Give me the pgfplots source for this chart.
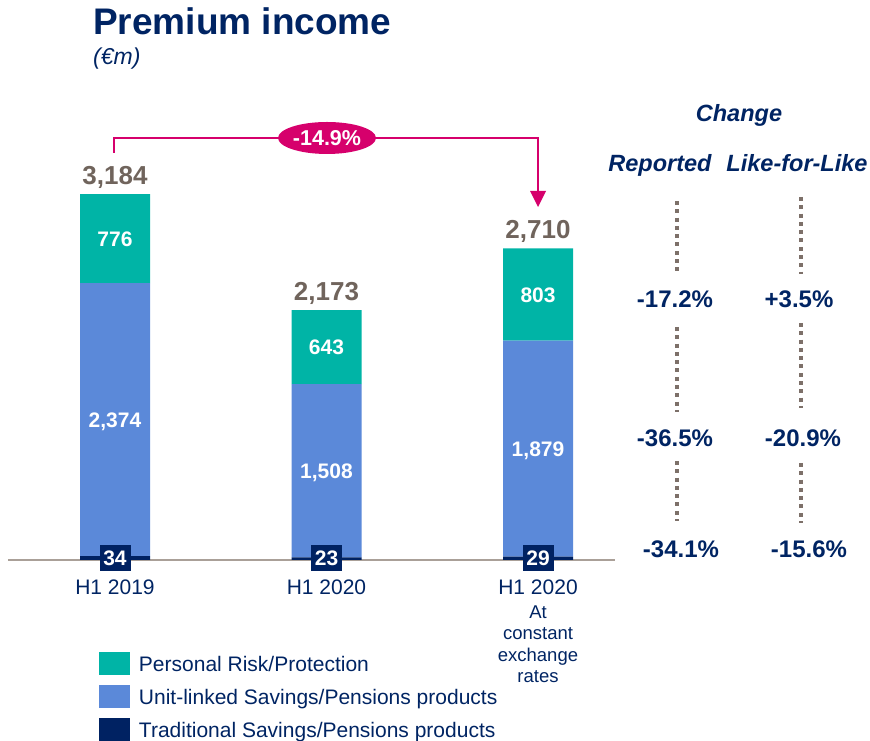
\documentclass[border=0pt]{standalone}
\usepackage{fontspec}
\setmainfont{Liberation Sans}
\usepackage{pgfplots}
\pgfplotsset{compat=1.18}
\usepackage{pgfplotstable}
\definecolor{tealbar}{RGB}{0,180,166}
\definecolor{bluebar}{RGB}{91,137,217}
\definecolor{navybar}{RGB}{0,34,98}
\definecolor{navy}{RGB}{0,36,99}
\definecolor{totgray}{RGB}{112,100,92}
\definecolor{magenta2}{RGB}{214,0,108}
\definecolor{dotgray}{RGB}{125,112,105}
\definecolor{basegray}{RGB}{170,160,152}

\pgfplotstableread{
x trad unit prot
0 34 2374 776
1 23 1508 643
2 29 1879 803
}\premium

\pgfplotstableread{
x y label
0 1221 2,374
0 2796 776
1 777 1,508
1 1852.5 643
2 968.5 1,879
2 2309.5 803
}\seglabels

\pgfplotstableread{
x y label
0 3184 3,184
1 2173 2,173
2 2710 2,710
}\totals

\pgfplotstableread{
x y label
0 17 34
1 17 23
2 17 29
}\tradlabels

\begin{document}
\begin{tikzpicture}
\useasboundingbox (0,0) rectangle (870pt,741pt);
% title
\node[anchor=base west, inner sep=0pt, text=navy, font=\fontsize{37}{41}\selectfont\bfseries] at (93pt,706pt) {Premium income};
\node[anchor=base west, inner sep=0pt, text=navy, font=\fontsize{23}{27}\selectfont\itshape] at (93pt,676pt) {(€m)};

\begin{axis}[at={(8pt,181pt)}, anchor=south west, scale only axis,
  width=607pt, height=400pt,
  xmin=-0.5059, xmax=2.364, ymin=0, ymax=3480,
  ybar stacked, bar width=70pt,
  axis x line=bottom, axis y line=none,
  x axis line style={-, draw=basegray, line width=2pt},
  xtick={0,1,2}, xticklabels={H1 2019,H1 2020,H1 2020},
  major tick length=0pt,
  xticklabel style={anchor=base, yshift=-35pt, font=\fontsize{21}{25}\selectfont, text=navy},
  ytick=\empty,
  reverse legend,
  legend style={at={(0.1499,-0.23)}, anchor=north west, draw=none, fill=none,
    inner sep=0pt, outer sep=0pt, row sep=9.5pt, column sep=9pt,
    font=\fontsize{21}{25}\selectfont, text=navy,
    nodes={inner sep=0pt, text height=19pt, text depth=4pt}},
  legend cell align=left,
]
\addplot[fill=navybar, draw=none, legend image code/.code={\fill[navybar] (0pt,-11pt) rectangle (31pt,12pt);}] table[x=x,y=trad]{\premium};
\addplot[fill=bluebar, draw=none, legend image code/.code={\fill[bluebar] (0pt,-11pt) rectangle (31pt,12pt);}] table[x=x,y=unit]{\premium};
\addplot[fill=tealbar, draw=none, legend image code/.code={\fill[tealbar] (0pt,-11pt) rectangle (31pt,12pt);}] table[x=x,y=prot]{\premium};
\legend{Traditional Savings/Pensions products, Unit-linked Savings/Pensions products, Personal Risk/Protection}
\end{axis}

\begin{axis}[at={(8pt,181pt)}, anchor=south west, scale only axis,
  width=607pt, height=400pt,
  xmin=-0.5059, xmax=2.364, ymin=0, ymax=3480,
  hide axis, clip=false]
\addplot[draw=none, mark=none, nodes near coords, point meta=explicit symbolic,
  every node near coord/.append style={anchor=base, yshift=-7.5pt, inner sep=0pt,
    font=\fontsize{21}{25}\selectfont\bfseries, text=white}]
  table[x=x, y=y, meta=label]{\seglabels};
\addplot[draw=none, mark=none, nodes near coords, point meta=explicit symbolic,
  every node near coord/.append style={anchor=base, yshift=10pt, inner sep=0pt,
    font=\fontsize{26}{30}\selectfont\bfseries, text=totgray}]
  table[x=x, y=y, meta=label]{\totals};
\addplot[draw=none, mark=none, nodes near coords, point meta=explicit symbolic,
  every node near coord/.append style={anchor=center, inner sep=0pt, fill=navybar,
    minimum width=31pt, minimum height=26pt,
    font=\fontsize{21}{25}\selectfont\bfseries, text=white}]
  table[x=x, y=y, meta=label]{\tradlabels};
\end{axis}

% sub-label of third category
\begin{scope}[every node/.style={anchor=base, inner sep=0pt, text=navy, font=\fontsize{18.5}{22}\selectfont}]
\node at (538pt,122.5pt) {At};
\node at (538pt,101pt) {constant};
\node at (538pt,79.5pt) {exchange};
\node at (538pt,58pt) {rates};
\end{scope}

% change arrow
\draw[magenta2, line width=2.5pt] (114pt,588pt) -- (114pt,603pt) -- (538pt,603pt) -- (538pt,550pt);
\fill[magenta2] (530pt,550pt) -- (546pt,550pt) -- (538pt,534pt) -- cycle;
\fill[magenta2] (327pt,603pt) ellipse [x radius=49pt, y radius=16pt];
\node[text=white, inner sep=0pt, font=\fontsize{21.5}{25}\selectfont\bfseries] at (327pt,603pt) {-14.9\%};

% right-hand change table
\begin{scope}[every node/.style={anchor=base, inner sep=0pt, text=navy}]
\node[font=\fontsize{23.5}{27}\selectfont\bfseries\itshape] at (739pt,619pt) {Change};
\node[font=\fontsize{23.5}{27}\selectfont\bfseries\itshape] at (660pt,569pt) {Reported};
\node[font=\fontsize{23.5}{27}\selectfont\bfseries\itshape] at (797pt,569pt) {Like-for-Like};
\node[font=\fontsize{24}{28}\selectfont\bfseries] at (675pt,433pt) {-17.2\%};
\node[font=\fontsize{24}{28}\selectfont\bfseries] at (799pt,433pt) {+3.5\%};
\node[font=\fontsize{24}{28}\selectfont\bfseries] at (675pt,294pt) {-36.5\%};
\node[font=\fontsize{24}{28}\selectfont\bfseries] at (803pt,294pt) {-20.9\%};
\node[font=\fontsize{24}{28}\selectfont\bfseries] at (681pt,183pt) {-34.1\%};
\node[font=\fontsize{24}{28}\selectfont\bfseries] at (809pt,183pt) {-15.6\%};
\end{scope}
\begin{scope}[dotgray, line width=4.3pt, dash pattern=on 4pt off 4.3pt]
\draw (677pt,540pt) -- (677pt,469pt);
\draw (677pt,414pt) -- (677pt,329pt);
\draw (677pt,280pt) -- (677pt,220pt);
\draw (801pt,544pt) -- (801pt,467pt);
\draw (801pt,418pt) -- (801pt,333pt);
\draw (801pt,278pt) -- (801pt,218pt);
\end{scope}
\end{tikzpicture}
\end{document}
